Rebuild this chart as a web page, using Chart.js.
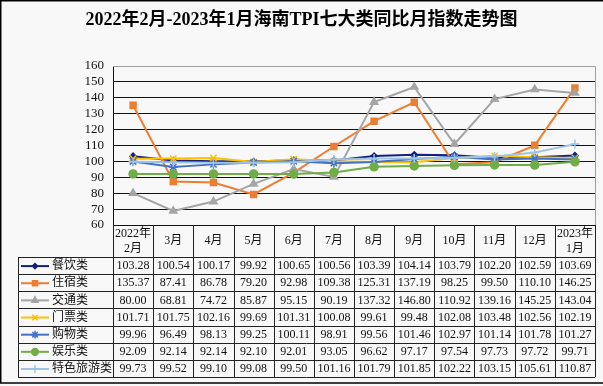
<!DOCTYPE html>
<html>
<head>
<meta charset="utf-8">
<script src="https://cdn.jsdelivr.net/npm/chart.js@4"></script>
<style>
  html, body { margin: 0; padding: 0; background: #f8f8f8; }
  #wrap { width: 603px; height: 386px; }
</style>
</head>
<body>
<div id="wrap"><canvas id="chart" width="603" height="386"></canvas></div>
<script>
// Months along the x axis (header row of the table)
const months = ['2022年\n2月', '3月', '4月', '5月', '6月', '7月', '8月', '9月', '10月', '11月', '12月', '2023年\n1月'];

// Series values, year-on-year index
const canyin = [103.28, 100.54, 100.17, 99.92, 100.65, 100.56, 103.39, 104.14, 103.79, 102.20, 102.59, 103.69];
const zhusu = [135.37, 87.41, 86.78, 79.20, 92.98, 109.38, 125.31, 137.19, 98.25, 99.50, 110.10, 146.25];
const jiaotong = [80.00, 68.81, 74.72, 85.87, 95.15, 90.19, 137.32, 146.80, 110.92, 139.16, 145.25, 143.04];
const menpiao = [101.71, 101.75, 102.16, 99.69, 101.31, 100.08, 99.61, 99.48, 102.08, 103.48, 102.56, 102.19];
const gouwu = [99.96, 96.49, 98.13, 99.25, 100.11, 98.91, 99.56, 101.46, 102.97, 101.14, 101.78, 101.27];
const yule = [92.09, 92.14, 92.14, 92.10, 92.01, 93.05, 96.62, 97.17, 97.54, 97.73, 97.72, 99.71];
const tese = [99.73, 99.52, 99.10, 99.08, 99.50, 101.16, 101.79, 101.85, 102.22, 103.15, 105.61, 110.87];

const seriesNames = ['餐饮类', '住宿类', '交通类', '门票类', '购物类', '娱乐类', '特色旅游类'];
const seriesData = [canyin, zhusu, jiaotong, menpiao, gouwu, yule, tese];

// Style per series
const seriesColors = ['#14217a', '#ed7d31', '#a5a5a5', '#ffc000', '#4472c4', '#70ad47', '#9dc3e6'];
const seriesMarkers = ['rectRot', 'rect', 'triangle', 'crossRot', 'star', 'circle', 'cross'];
const seriesRadius = [3, 4.2, 4.2, 4.5, 4.5, 4, 4.5];

const titleText = '2022年2月-2023年1月海南TPI七大类同比月指数走势图';
const serif = '"Liberation Serif", "Noto Sans CJK SC", serif';

// Background, frame and title
const framePlugin = {
    id: 'frame',
    beforeDraw(chart) {
        const ctx = chart.ctx;
        ctx.save();
        ctx.fillStyle = '#f8f8f8';
        ctx.fillRect(0, 0, chart.width, chart.height);
        ctx.strokeStyle = '#000';
        ctx.lineWidth = 1.5;
        ctx.beginPath();
        ctx.moveTo(0.75, chart.height - 3);
        ctx.lineTo(0.75, 0.75);
        ctx.lineTo(chart.width, 0.75);
        ctx.moveTo(0, chart.height - 3);
        ctx.lineTo(chart.width, chart.height - 3);
        ctx.stroke();

        ctx.fillStyle = '#000';
        ctx.font = 'bold 18px ' + serif;
        ctx.textAlign = 'center';
        ctx.textBaseline = 'middle';
        ctx.fillText(titleText, chart.width / 2, 20);
        ctx.restore();
    },
    beforeDatasetsDraw(chart) {
        // gray border on top and right of the plot
        const a = chart.chartArea;
        const ctx = chart.ctx;
        ctx.save();
        ctx.strokeStyle = '#a0a0a0';
        ctx.lineWidth = 1;
        ctx.beginPath();
        ctx.moveTo(a.left, a.top + 0.5);
        ctx.lineTo(a.right + 0.5, a.top + 0.5);
        ctx.lineTo(a.right + 0.5, a.bottom);
        ctx.stroke();
        ctx.restore();
    }
};

// Data table under the plot, columns follow the x scale
const tablePlugin = {
    id: 'dataTable',
    afterDraw(chart) {
        const ctx = chart.ctx;
        const x = chart.scales.x;
        const a = chart.chartArea;
        const colW = x.getPixelForValue(1) - x.getPixelForValue(0);
        const left = x.getPixelForValue(0) - colW / 2;
        const right = x.getPixelForValue(months.length - 1) + colW / 2;
        const headTop = a.bottom;
        const headBottom = headTop + 32;
        const rowH = 17.15;
        const legendLeft = 18;
        const tableBottom = headBottom + rowH * seriesNames.length;

        ctx.save();
        ctx.strokeStyle = '#222';
        ctx.lineWidth = 1;
        ctx.beginPath();
        // vertical lines
        for (let i = 0; i <= months.length; i++) {
            const px = Math.round(left + colW * i) + 0.5;
            ctx.moveTo(px, headTop);
            ctx.lineTo(px, tableBottom);
        }
        ctx.moveTo(legendLeft + 0.5, headBottom);
        ctx.lineTo(legendLeft + 0.5, tableBottom);
        // horizontal lines
        for (let r = 0; r <= seriesNames.length; r++) {
            const py = Math.round(headBottom + rowH * r) + 0.5;
            ctx.moveTo(legendLeft, py);
            ctx.lineTo(right, py);
        }
        ctx.stroke();

        ctx.fillStyle = '#111';
        ctx.font = '12px ' + serif;
        ctx.textAlign = 'center';
        ctx.textBaseline = 'middle';
        months.forEach((m, i) => {
            const cx = x.getPixelForValue(i);
            const lines = m.split('\n');
            if (lines.length === 2) {
                ctx.fillText(lines[0], cx, headTop + 8.5);
                ctx.fillText(lines[1], cx, headTop + 23.5);
            } else {
                ctx.fillText(m, cx, headTop + 15.5);
            }
        });

        seriesNames.forEach((name, r) => {
            const cy = headBottom + rowH * r + rowH / 2 + 0.5;
            // legend key
            ctx.strokeStyle = seriesColors[r];
            ctx.lineWidth = 2;
            ctx.beginPath();
            ctx.moveTo(21, cy);
            ctx.lineTo(49, cy);
            ctx.stroke();
            ctx.fillStyle = seriesColors[r];
            ctx.lineWidth = 1.5;
            Chart.helpers.drawPoint(ctx, {
                pointStyle: seriesMarkers[r],
                radius: seriesRadius[r] * 0.85,
                rotation: 0,
                borderWidth: 1.5
            }, 35, cy);
            ctx.fillStyle = '#111';
            ctx.textAlign = 'left';
            ctx.fillText(name, 52, cy);
            ctx.textAlign = 'center';
            seriesData[r].forEach((v, i) => {
                ctx.fillText(v.toFixed(2), x.getPixelForValue(i), cy);
            });
        });
        ctx.restore();
    }
};

const datasets = seriesNames.map((name, i) => ({
    label: name,
    data: seriesData[i],
    borderColor: seriesColors[i],
    backgroundColor: seriesColors[i],
    borderWidth: 2,
    pointStyle: seriesMarkers[i],
    pointRadius: seriesRadius[i],
    pointBorderWidth: 1.5,
    pointBorderColor: seriesColors[i],
    pointBackgroundColor: seriesColors[i],
    tension: 0,
    order: seriesNames.length - i
}));

new Chart(document.getElementById('chart'), {
    type: 'line',
    data: { labels: months, datasets: datasets },
    options: {
        responsive: false,
        animation: false,
        layout: { padding: { left: 0, right: 8, top: 66, bottom: 161 } },
        plugins: {
            legend: { display: false },
            title: { display: false },
            tooltip: { enabled: false }
        },
        scales: {
            x: {
                display: false,
                offset: true
            },
            y: {
                min: 60,
                max: 160,
                afterFit(scale) { scale.width = 113; },
                ticks: {
                    stepSize: 10,
                    autoSkip: false,
                    padding: 9,
                    color: '#111',
                    font: { family: serif, size: 13 }
                },
                grid: {
                    drawTicks: false,
                    color: ctx => ctx.tick && ctx.tick.value === 160 ? 'rgba(0,0,0,0)' : '#111',
                    lineWidth: 1
                },
                border: { color: '#111', width: 1 }
            }
        }
    },
    plugins: [framePlugin, tablePlugin]
});
</script>
</body>
</html>
